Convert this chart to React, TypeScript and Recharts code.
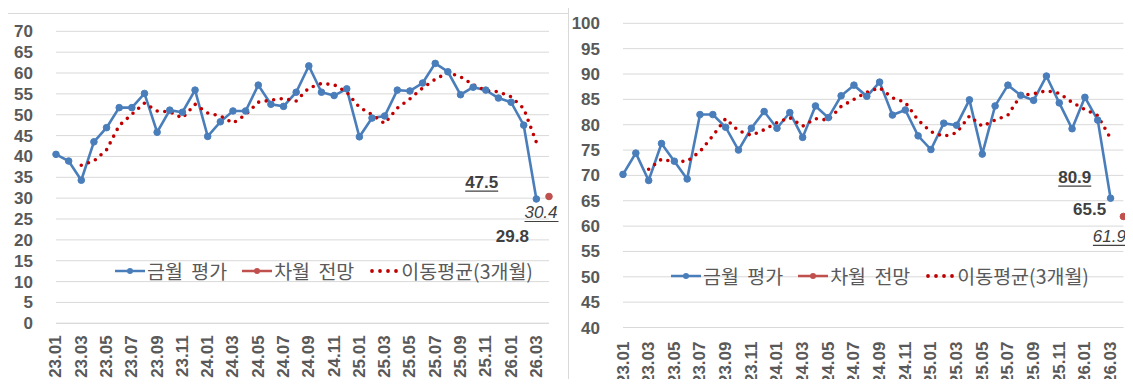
import { LineChart, Line, XAxis, YAxis, CartesianGrid, Legend } from "recharts";

// 월 축 (마지막 26.04는 차월 전망 자리, 라벨은 2개월 간격)
const months = [
  "23.01", "23.02", "23.03", "23.04", "23.05", "23.06", "23.07", "23.08", "23.09", "23.10", "23.11", "23.12",
  "24.01", "24.02", "24.03", "24.04", "24.05", "24.06", "24.07", "24.08", "24.09", "24.10", "24.11", "24.12",
  "25.01", "25.02", "25.03", "25.04", "25.05", "25.06", "25.07", "25.08", "25.09", "25.10", "25.11", "25.12",
  "26.01", "26.02", "26.03", "26.04",
];

// 왼쪽 패널
const leftNow = [
  40.5, 38.9, 34.3, 43.5, 46.9, 51.7, 51.7, 55.1, 45.8, 51.1, 50.6, 55.9,
  44.8, 48.3, 50.9, 50.9, 57.1, 52.5, 52.0, 55.4, 61.7, 55.4, 54.6, 56.2,
  44.7, 49.2, 49.7, 55.9, 55.7, 57.6, 62.3, 60.3, 54.8, 56.6, 55.9, 54.0,
  53.0, 47.5, 29.8,
];
const leftNext = 30.4;
const leftAvg = [
  37.9, 38.9, 41.6, 47.4, 50.1, 52.8, 50.9, 50.7, 49.2, 52.5,
  50.4, 49.7, 48.0, 50.0, 53.0, 53.5, 53.9, 53.3, 56.4, 57.5,
  57.2, 55.4, 51.8, 50.0, 47.9, 51.6, 53.8, 56.4, 58.5, 60.1,
  59.1, 57.2, 55.8, 55.5, 54.3, 51.5, 43.4,
];
const leftTicks = [0, 5, 10, 15, 20, 25, 30, 35, 40, 45, 50, 55, 60, 65, 70];

// 오른쪽 패널
const rightNow = [
  70.2, 74.4, 69.0, 76.3, 72.8, 69.3, 82.0, 82.0, 79.5, 75.0, 79.3, 82.6,
  79.3, 82.4, 77.5, 83.7, 81.4, 85.7, 87.8, 85.6, 88.4, 81.9, 82.9, 77.8,
  75.1, 80.3, 79.9, 84.9, 74.2, 83.7, 87.8, 85.8, 84.8, 89.6, 84.3, 79.2,
  85.4, 80.9, 65.5,
];
const rightNext = 61.9;
const rightAvg = [
  71.2, 73.2, 72.7, 72.8, 74.7, 77.8, 81.2, 78.8, 77.9, 79.0,
  80.4, 81.4, 79.7, 81.2, 80.9, 83.6, 85.0, 86.4, 87.3, 85.3,
  84.4, 80.9, 78.6, 77.7, 78.4, 81.7, 79.7, 80.9, 81.9, 85.8,
  86.1, 86.7, 86.2, 84.4, 83.0, 81.8, 77.3,
];
const rightTicks = [40, 45, 50, 55, 60, 65, 70, 75, 80, 85, 90, 95, 100];

const BLUE = "#4A7EBB";
const RED = "#C0504D";
const DARK_RED = "#C00000";
const GRID = "#D9D9D9";
const AXIS_TEXT = "#595959";
const NUM_FONT = "'Liberation Sans', Arial, sans-serif";
const KO_FONT = "'Noto Sans CJK KR', sans-serif";

type Row = { month: string; now: number | null; next: number | null; avg: number | null };

function buildRows(now: number[], next: number, avg: number[]): Row[] {
  return months.map((m, i) => ({
    month: m,
    now: i < now.length ? now[i] : null,
    next: i === now.length ? next : null,
    avg: i >= 2 && i - 2 < avg.length ? avg[i - 2] : null,
  }));
}

type Note = { index: number; dx: number; dy: number; italic?: boolean; underline?: boolean };

// 점 + (지정된 점에만) 값 라벨
const makeDot = (key: "now" | "next", color: string, r: number, notes: Note[]) => (p: any) => {
  const { cx, cy, index, payload } = p;
  const v = payload ? payload[key] : null;
  if (v == null || cy == null) return <g key={`${key}-${index}`} />;
  const note = notes.find((n) => n.index === index);
  const tx = note ? cx + note.dx : 0;
  const ty = note ? cy + note.dy : 0;
  const half = 16.5;
  return (
    <g key={`${key}-${index}`}>
      <circle cx={cx} cy={cy} r={r} fill={color} stroke={color} strokeWidth={1} />
      {note && (
        <text
          x={tx}
          y={ty}
          textAnchor="middle"
          dominantBaseline="central"
          fontFamily={NUM_FONT}
          fontSize={17}
          fontWeight={note.italic ? 400 : 700}
          fontStyle={note.italic ? "italic" : "normal"}
          fill="#404040"
        >
          {v.toFixed(1)}
        </text>
      )}
      {note && note.underline && (
        <line x1={tx - half} x2={tx + half + (note.italic ? 1 : 0)} y1={ty + 9} y2={ty + 9} stroke="#404040" strokeWidth={1.2} />
      )}
    </g>
  );
};

const MonthTick = (p: any) => {
  const { x, y, payload } = p;
  return (
    <text
      x={x}
      y={y}
      transform={`rotate(-90 ${x} ${y})`}
      textAnchor="end"
      dominantBaseline="central"
      fontFamily={NUM_FONT}
      fontSize={17}
      fontWeight={700}
      fill={AXIS_TEXT}
    >
      {payload.value}
    </text>
  );
};

const LegendRow = () => (
  <div
    style={{
      display: "flex",
      alignItems: "center",
      fontFamily: KO_FONT,
      fontSize: 19.5,
      wordSpacing: 4,
      lineHeight: "26px",
      color: AXIS_TEXT,
      whiteSpace: "nowrap",
    }}
  >
    <svg width={30} height={10} style={{ marginRight: 2 }}>
      <line x1={0} y1={5} x2={30} y2={5} stroke={BLUE} strokeWidth={2.5} />
      <circle cx={15} cy={5} r={3} fill={BLUE} />
    </svg>
    <span style={{ marginRight: 15 }}>금월 평가</span>
    <svg width={30} height={10} style={{ marginRight: 2 }}>
      <line x1={0} y1={5} x2={30} y2={5} stroke={RED} strokeWidth={2.5} />
      <circle cx={15} cy={5} r={3} fill={RED} />
    </svg>
    <span style={{ marginRight: 15 }}>차월 전망</span>
    <svg width={30} height={10} style={{ marginRight: 2 }}>
      {[3, 11, 19, 27].map((cx) => (
        <circle key={cx} cx={cx} cy={5} r={1.9} fill={DARK_RED} />
      ))}
    </svg>
    <span>이동평균(3개월)</span>
  </div>
);

type PanelProps = {
  rows: Row[];
  ticks: number[];
  width: number;
  height: number;
  axisWidth: number;
  marginTop: number;
  marginRight: number;
  xHeight: number;
  xGap: number;
  legendLeft: number;
  legendTop: number;
  notesNow: Note[];
  notesNext: Note[];
};

function Panel(p: PanelProps) {
  return (
    <LineChart
      width={p.width}
      height={p.height}
      data={p.rows}
      margin={{ top: p.marginTop, right: p.marginRight, bottom: 0, left: 0 }}
    >
      <CartesianGrid vertical={false} stroke={GRID} strokeWidth={1} />
      <XAxis
        dataKey="month"
        interval={1}
        height={p.xHeight}
        tickSize={0}
        tickMargin={p.xGap}
        tickLine={false}
        axisLine={{ stroke: GRID }}
        tick={<MonthTick />}
      />
      <YAxis
        width={p.axisWidth}
        domain={[p.ticks[0], p.ticks[p.ticks.length - 1]]}
        ticks={p.ticks}
        interval={0}
        tickSize={0}
        tickMargin={23}
        tickLine={false}
        axisLine={false}
        tick={{ fontSize: 17, fontWeight: 700, fill: AXIS_TEXT, fontFamily: NUM_FONT }}
      />
      <Legend
        layout="horizontal"
        verticalAlign="middle"
        align="center"
        content={<LegendRow />}
        wrapperStyle={{ left: p.legendLeft, top: p.legendTop, width: "auto", height: "auto" }}
      />
      <Line
        dataKey="now"
        name="금월 평가"
        stroke={BLUE}
        strokeWidth={2.6}
        dot={makeDot("now", BLUE, 3.3, p.notesNow)}
        activeDot={false}
        isAnimationActive={false}
      />
      <Line
        dataKey="next"
        name="차월 전망"
        stroke={RED}
        strokeWidth={2.6}
        dot={makeDot("next", RED, 3.3, p.notesNext)}
        activeDot={false}
        isAnimationActive={false}
      />
      <Line
        dataKey="avg"
        name="이동평균(3개월)"
        stroke={DARK_RED}
        strokeWidth={3.6}
        strokeDasharray="0 7.6"
        strokeLinecap="round"
        dot={false}
        activeDot={false}
        isAnimationActive={false}
      />
    </LineChart>
  );
}

const frame = { position: "absolute" as const, border: `1px solid ${GRID}`, boxSizing: "border-box" as const };

export default function App() {
  return (
    <div style={{ position: "relative", margin: -8, width: 1133, height: 387, overflow: "hidden", background: "#fff" }}>
      <div style={{ ...frame, left: 5, top: 13, width: 564, height: 373 }} />
      <div style={{ ...frame, left: 568, top: 5, width: 570, height: 390 }} />
      <div style={{ position: "absolute", left: 5, top: 13 }}>
        <Panel
          rows={buildRows(leftNow, leftNext, leftAvg)}
          ticks={leftTicks}
          width={563}
          height={372}
          axisWidth={51}
          marginTop={18.3}
          marginRight={19}
          xHeight={61.7}
          xGap={12}
          legendLeft={110}
          legendTop={245}
          notesNow={[
            { index: 37, dx: -42, dy: 57, underline: true },
            { index: 38, dx: -24, dy: 38 },
          ]}
          notesNext={[{ index: 39, dx: -8, dy: 16, italic: true, underline: true }]}
        />
      </div>
      <div style={{ position: "absolute", left: 568, top: 5 }}>
        <Panel
          rows={buildRows(rightNow, rightNext, rightAvg)}
          ticks={rightTicks}
          width={565}
          height={382}
          axisWidth={55}
          marginTop={18.3}
          marginRight={9.6}
          xHeight={59.5}
          xGap={14}
          legendLeft={103}
          legendTop={258}
          notesNow={[
            { index: 37, dx: -23, dy: 57, underline: true },
            { index: 38, dx: -21, dy: 11 },
          ]}
          notesNext={[{ index: 39, dx: -14, dy: 20, italic: true, underline: true }]}
        />
      </div>
    </div>
  );
}
